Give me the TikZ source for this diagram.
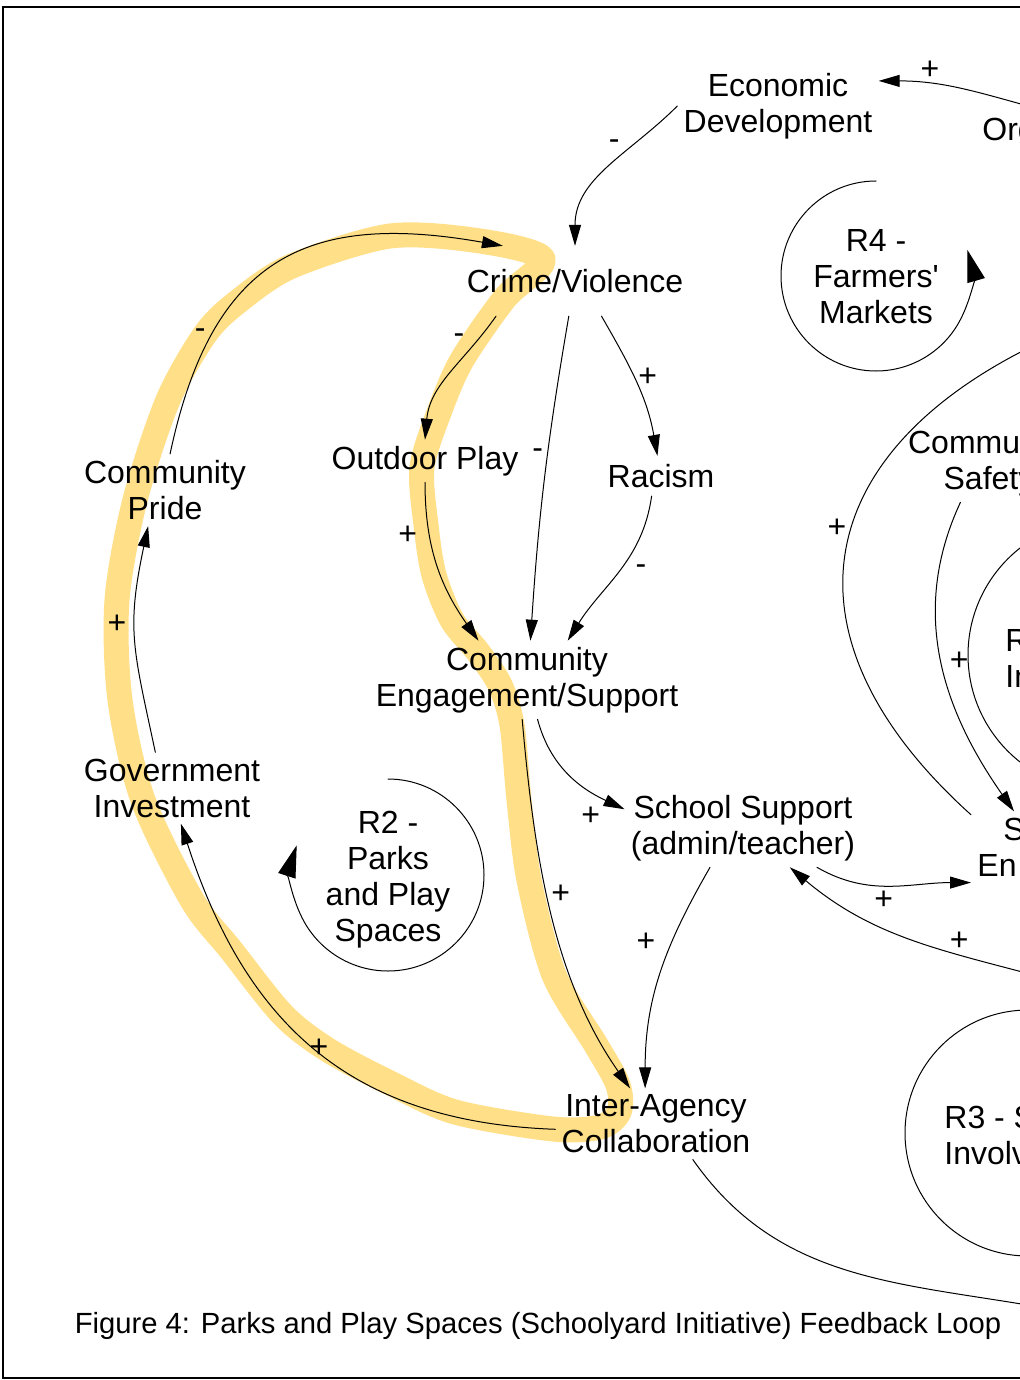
\documentclass[tikz,border=0pt]{standalone}
\usepackage{fontspec}
\setmainfont{Liberation Sans}
\usetikzlibrary{arrows.meta}

\begin{document}
\begin{tikzpicture}
		[x=0.5pt,y=-0.5pt,line cap=round,
		%Styles
		var/.style={align=center,inner sep=3pt,font=\fontsize{16pt}{18pt}\selectfont},
		cut/.style={var,align=left,anchor=west},
		link/.style={line width=0.5pt,-{Triangle[length=10.5pt,width=6pt]}},
		plain link/.style={line width=0.5pt},
		loop arc/.style={line width=0.5pt,-{Triangle[length=16pt,width=9pt]}},
		sign/.style={font=\fontsize{16pt}{18pt}\selectfont,inner sep=2pt},
		highlight/.style={line width=12.5pt,draw=bandyellow,line join=round}
		]
		
		%Colors
		\definecolor{bandyellow}{RGB}{255,223,135}
		
		%Frame
		\useasboundingbox (0,0) rectangle (1020,1380);
		\clip (0,0) rectangle (1020,1380);
		\draw[line width=1pt] (3,7) rectangle (1100,1378);
		
		%The highlighted loop
		\draw[highlight] plot[smooth cycle,tension=0.5] coordinates {
			(543,259) (505,298) (462,360) (440,410) (422,467) (426,525) (434,575)
			(452,620) (478,652) (500,685) (512,725) (519,800) (529,880) (554,975)
			(596,1045) (618,1085) (619,1112) (600,1127) (553,1129) (455,1112)
			(390,1083) (328,1050) (283,1015) (231,950) (192,900) (143,800)
			(120,700) (117,600) (135,500) (168,400) (206,333) (240,300) (292,266)
			(390,236) (480,241)};
		
		%Variables
		\node[var] (econ) at (778,106) {Economic\\Development};
		\node[cut] (org) at (976,133) {Org};
		\node[var,inner ysep=11.5pt] (crime) at (575,281) {Crime/Violence};
		\node[var] (outdoor) at (425,461) {Outdoor Play};
		\node[var,inner ysep=4pt] (racism) at (661,476) {Racism};
		\node[var] (pride) at (165,490) {Community\\Pride};
		\node[var] (engage) at (527,680) {Community\\Engagement/Support};
		\node[var] (govt) at (172,788) {Government\\Investment};
		\node[var] (school) at (743,828) {School Support\\(admin/teacher)};
		\node[var] (agency) at (656,1124) {Inter-Agency\\Collaboration};
		\node[var] (safety) at (989,463) {Community\\Safety};
		\node[cut] (env) at (971,847) {\hspace*{13pt}S\\En};
		
		%Loop labels
		\node[var] (loopA) at (388,880) {R2 -\\Parks\\and Play\\Spaces};
		\node[var] (loopB) at (876,277) {R4 -\\Farmers\textquotesingle\\Markets};
		\node[cut] (loopC) at (938,1135) {R3 - S\\Involv};
		\node[cut] (loopD) at (999,658) {R\\In};
		
		%Loop arcs
		\draw[loop arc] (388,779) arc[start angle=90,end angle=-198,radius=48pt];
		\draw[loop arc] (876,181) arc[start angle=90,end angle=376,radius=47.5pt];
		\draw[plain link] (1028,1010) arc[start angle=90,end angle=270,radius=61.5pt];
		\draw[plain link] (1104,519) arc[start angle=90,end angle=270,radius=68pt];
		
		%Ends outside the page
		\coordinate (orgtop) at (1050,112);
		\coordinate (offB) at (1045,978);
		\coordinate (offC) at (1045,340);
		\coordinate (offD) at (1045,1308);
		
		%Links
		\draw[link] (econ.west) to[out=225,in=90] node[sign,pos=.3,left=5pt] {-} (crime.north);
		\draw[link] (orgtop) to[out=165,in=0] node[sign,pos=.72,above] {+} (econ.14);
		\draw[link] (pride.82) to[out=78,in=170,looseness=1.3] node[sign,pos=.25,left=1pt] {-} (crime.154);
		\draw[link] (crime.204) to[out=235,in=85] node[sign,pos=.18,left=5pt] {-} (outdoor.north);
		\draw[link] (crime.260) to[bend right=3] node[sign,pos=.42,left] {-} (engage.85);
		\draw[link] (crime.307) to[out=-60,in=100] node[sign,pos=.45,right] {+} (racism.100);
		\draw[link] (racism.245) to[out=262,in=58] node[sign,pos=.48,right=5pt] {-} (engage.44);
		\draw[link] (outdoor.south) to[out=270,in=125] node[sign,pos=.3,left=4pt] {+} (engage.141);
		\draw[link] (govt.115) to[out=102,in=258,looseness=1.2] node[sign,pos=.58,left=2pt] {+} (pride.245);
		\draw[link] (agency.183) to[out=178,in=288,looseness=1.1] node[sign,pos=.45,above left] {+} (govt.284);
		\draw[link] (engage.263) to[out=275,in=125,looseness=.9] node[sign,pos=.45,right] {+} (agency.126);
		\draw[link] (engage.285) to[out=285,in=155] node[sign,at end,left=10pt,yshift=-3.5pt] {+} (school.171);
		\draw[link] (school.230) to[out=240,in=90] node[sign,pos=.35,left=6pt] {+} (agency.107);
		\draw[link] (school.332) to[out=-30,in=180] node[sign,pos=.45,below] {+} (env.south west);
		\draw[link] (offB) to[out=165,in=-40] node[sign,pos=.3,above] {+} (school.320);
		\draw[link] (safety.234) to[out=245,in=125] node[sign,pos=.5,right=2pt] {+} (env.70);
		\draw[plain link] (env.133) to[out=138,in=205,looseness=1.4] node[sign,pos=.55,left] {+} (offC);
		\draw[plain link] (agency.316) to[out=-55,in=170] (offD);
		
		%Caption
		\node[font=\fontsize{14.6pt}{17pt}\selectfont] (caption) at (538,1326)
			{Figure 4: Parks and Play Spaces (Schoolyard Initiative) Feedback Loop};
\end{tikzpicture}
\end{document}
